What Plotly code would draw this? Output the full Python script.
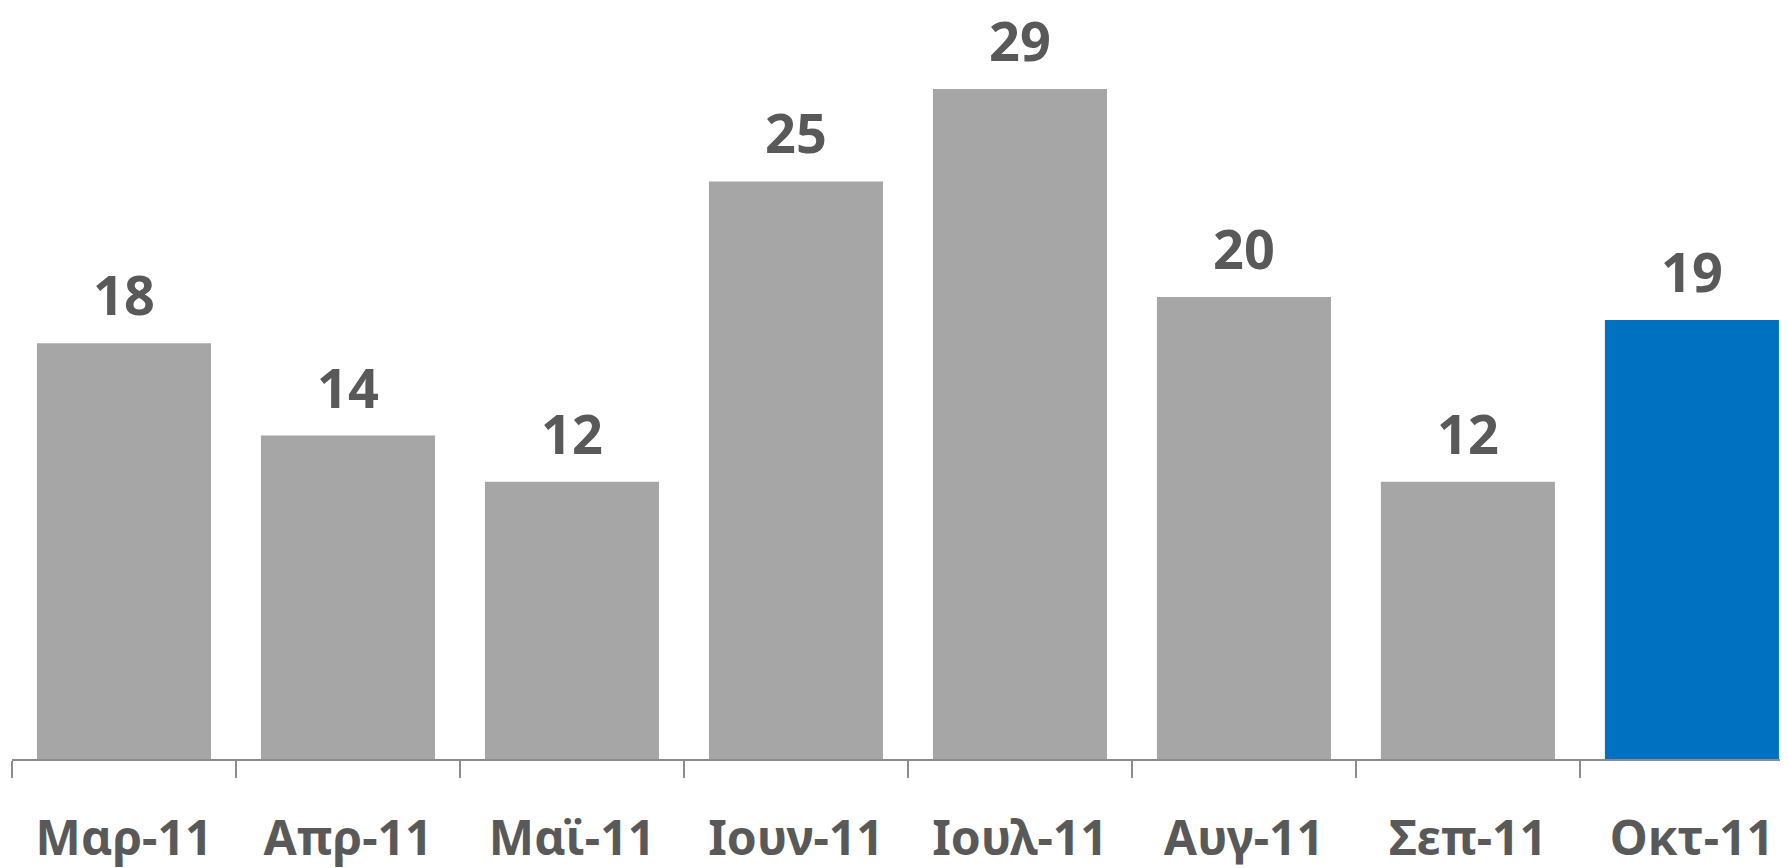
import plotly.graph_objects as go

categories = ["Μαρ-11", "Απρ-11", "Μαϊ-11", "Ιουν-11", "Ιουλ-11", "Αυγ-11", "Σεπ-11", "Οκτ-11"]
values = [18, 14, 12, 25, 29, 20, 12, 19]
colors = ["#A6A6A6"] * 7 + ["#0070C0"]

TXT = "#595959"
FONT = "Noto Sans"

fig = go.Figure()
fig.add_trace(go.Bar(
    x=categories, y=values,
    marker=dict(color=colors, line=dict(width=0)),
    width=0.777,
))
for c, v in zip(categories, values):
    fig.add_annotation(x=c, y=v, text=f"<b>{v}</b>", showarrow=False,
                       yanchor="bottom", yshift=11, borderpad=0,
                       font=dict(family=FONT, size=54, color=TXT))

fig.update_layout(
    width=1780, height=860,
    margin=dict(l=4, r=0, t=0, b=109),
    paper_bgcolor="white", plot_bgcolor="white",
    showlegend=False,
    xaxis=dict(
        type="category", range=[-0.5, 7.429], automargin=False,
        showline=True, linecolor="#8C8C8C", linewidth=2,
        ticks="outside", tickson="boundaries", ticklen=17, tickwidth=2, tickcolor="#8C8C8C",
        tickfont=dict(family=FONT, size=48, color=TXT, weight="bold"),
        ticklabelstandoff=36,
        showgrid=False, zeroline=False,
    ),
    yaxis=dict(range=[0, 32.51], visible=False, showgrid=False, zeroline=False, automargin=False),
)
fig.write_html("out.html")
